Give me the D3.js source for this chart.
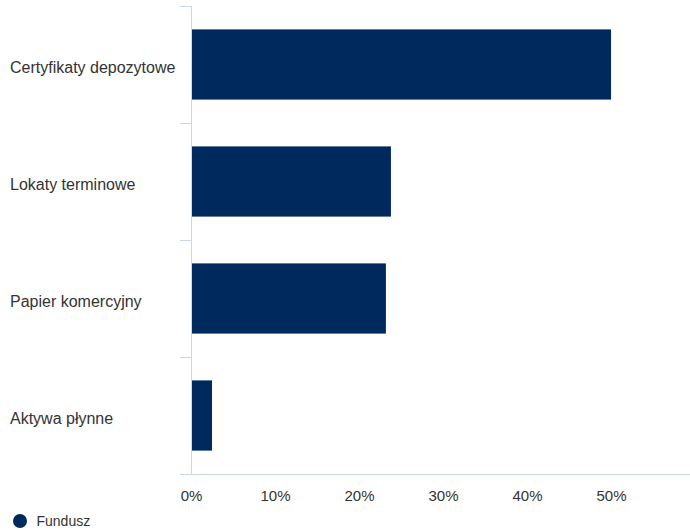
<!DOCTYPE html>
<html>
<head>
<meta charset="utf-8">
<script src="https://cdn.jsdelivr.net/npm/d3@7"></script>
<style>
  body { margin: 0; background: #fff; }
  svg { display: block; font-family: "Liberation Sans", Arial, sans-serif; }
</style>
</head>
<body>
<div id="chart"></div>
<script>
const categories = ["Certyfikaty depozytowe", "Lokaty terminowe", "Papier komercyjny", "Aktywa płynne"];
const values = [50.0, 23.8, 23.2, 2.5];
const tickValues = [0, 10, 20, 30, 40, 50];
const seriesName = "Fundusz";

const width = 690, height = 530;
const margin = { top: 6, right: 0, bottom: 56, left: 191 };
const innerW = width - margin.left - margin.right;
const innerH = height - margin.top - margin.bottom;
const barColor = "#002a5e";

const svg = d3.select("#chart").append("svg")
  .attr("width", width)
  .attr("height", height);

const g = svg.append("g")
  .attr("transform", `translate(${margin.left},${margin.top})`);

const x = d3.scaleLinear().domain([0, 59.4]).range([0, innerW]);
const y = d3.scaleBand().domain(categories).range([0, innerH]).paddingInner(0.4).paddingOuter(0.2);

// bars
g.append("g").selectAll("rect")
  .data(categories)
  .join("rect")
  .attr("x", x(0))
  .attr("y", (d) => y(d))
  .attr("width", (d, i) => x(values[i]) - x(0))
  .attr("height", y.bandwidth())
  .attr("fill", barColor);

// bottom axis
const xAxisG = g.append("g").attr("transform", `translate(0,${innerH})`)
  .call(d3.axisBottom(x).tickValues(tickValues).tickSize(0).tickPadding(16).tickFormat((d) => d + "%"));
xAxisG.select(".domain").remove();
xAxisG.selectAll("text").attr("font-size", 15).attr("fill", "#333").attr("font-family", "Liberation Sans, Arial, sans-serif");
g.append("line")
  .attr("x1", -11).attr("x2", innerW)
  .attr("y1", innerH + 0.5).attr("y2", innerH + 0.5)
  .attr("stroke", "#ccd6eb");

// left axis with band boundary ticks
const step = innerH / categories.length;
g.append("line")
  .attr("x1", 0.5).attr("x2", 0.5)
  .attr("y1", 0).attr("y2", innerH)
  .attr("stroke", "#ccd6eb");
g.append("g").selectAll("line")
  .data(d3.range(categories.length))
  .join("line")
  .attr("x1", -11).attr("x2", 0)
  .attr("y1", (i) => Math.round(i * step) + 0.5)
  .attr("y2", (i) => Math.round(i * step) + 0.5)
  .attr("stroke", "#ccd6eb");

// category labels
svg.append("g").selectAll("text")
  .data(categories)
  .join("text")
  .attr("x", 10)
  .attr("y", (d) => margin.top + y(d) + y.bandwidth() / 2 + 8.5)
  .attr("font-size", 16)
  .attr("fill", "#333")
  .text((d) => d);

// legend
const legend = svg.append("g").attr("transform", "translate(20,521)");
legend.append("circle").attr("r", 7).attr("fill", barColor);
legend.append("text")
  .attr("x", 16.5).attr("dy", "0.35em")
  .attr("font-size", 14)
  .attr("fill", "#333")
  .text(seriesName);
</script>
</body>
</html>
